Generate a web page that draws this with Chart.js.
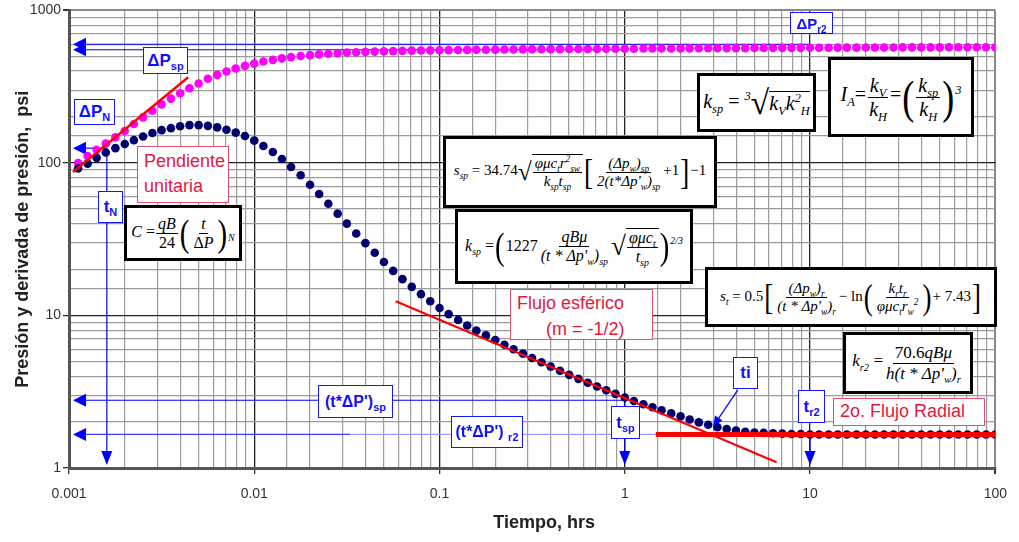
<!DOCTYPE html>
<html>
<head>
<meta charset="utf-8">
<script src="https://cdn.jsdelivr.net/npm/chart.js"></script>
<style>
body { margin: 0; background: #fff; }
#wrap { position: relative; width: 1019px; height: 542px; overflow: hidden; }
.fb { position: absolute; box-sizing: border-box; background: #fff; border: 3px solid #000; font-family: "Liberation Serif", "Times New Roman", serif; font-style: italic; color: #000; display: flex; align-items: center; justify-content: center; white-space: nowrap; }
.fr { display: inline-flex; flex-direction: column; align-items: center; vertical-align: middle; margin: 0 1px; }
.fr > span { line-height: 1.12; padding: 0 2px; }
.fr > span:first-child { border-bottom: 1px solid #000; }
.n { font-style: normal; }
.bk { font-style: normal; display: inline-block; transform: scaleY(1.3); font-size: 1.8em; line-height: 1; margin: 0 1px; font-weight: 300; vertical-align: middle; }
.rad { font-style: normal; font-size: 1.7em; line-height: 1; display: inline-block; vertical-align: middle; }
.sq { border-top: 1px solid #000; display: inline-block; vertical-align: middle; }
sub, sup { font-size: .62em; line-height: 0; }
.lb { position: absolute; box-sizing: border-box; background: #fff; font-family: "Liberation Sans", Arial, sans-serif; white-space: nowrap; }
.bl { border: 1.5px solid #1515ff; color: #1010ff; font-weight: bold; display: flex; align-items: center; justify-content: center; }
.rd { border: 1.5px solid #e0506e; color: #e4173f; font-size: 18px; line-height: 25px; padding-left: 6px; }
</style>
</head>
<body>
<div id="wrap">
  <canvas id="chart" width="1019" height="542"></canvas>

  <!-- formula boxes -->
  <div class="fb" style="left:124px;top:205px;width:118px;height:56px;font-size:16px"><span>C <span class="n">=</span><span class="fr"><span>qB</span><span class="n">24</span></span><span class="bk">(</span><span class="fr"><span>t</span><span><span class="n">Δ</span>P</span></span><span class="bk">)</span><sub>N</sub></span></div>

  <div class="fb" style="left:443px;top:136px;width:274px;height:72px;font-size:15px"><span>s<sub>sp</sub> <span class="n">= 34.74</span><span class="rad">√</span><span class="sq"><span class="fr"><span>φμc<sub>t</sub>r<sup>2</sup><sub>sw</sub></span><span>k<sub>sp</sub>t<sub>sp</sub></span></span></span><span class="bk">[</span><span class="fr"><span>(Δp<sub>w</sub>)<sub>sp</sub></span><span>2(t*Δp'<sub>w</sub>)<sub>sp</sub></span></span><span class="n">+1</span><span class="bk">]</span><span class="n">−1</span></span></div>

  <div class="fb" style="left:455px;top:209px;width:238px;height:75px;font-size:16px"><span>k<sub>sp</sub> <span class="n">=</span><span class="bk">(</span><span class="n">1227</span><span class="fr"><span>qBμ</span><span>(t * Δp'<sub>w</sub>)<sub>sp</sub></span></span><span class="rad">√</span><span class="sq"><span class="fr"><span>φμc<sub>t</sub></span><span>t<sub>sp</sub></span></span></span><span class="bk">)</span><sup>2/3</sup></span></div>

  <div class="fb" style="left:697px;top:73px;width:119px;height:59px;font-size:20px"><span>k<sub>sp</sub> <span class="n">=</span> <sup>3</sup><span class="rad">√</span><span class="sq">k<sub>V</sub>k<sup>2</sup><sub>H</sub></span></span></div>

  <div class="fb" style="left:828px;top:57px;width:146px;height:80px;font-size:20px"><span>I<sub>A</sub><span class="n">=</span><span class="fr"><span>k<sub>V</sub></span><span>k<sub>H</sub></span></span><span class="n">=</span><span class="bk">(</span><span class="fr"><span>k<sub>sp</sub></span><span>k<sub>H</sub></span></span><span class="bk">)</span><sup>3</sup></span></div>

  <div class="fb" style="left:705px;top:267px;width:292px;height:60px;font-size:15px"><span>s<sub>t</sub> <span class="n">= 0.5</span><span class="bk">[</span><span class="fr"><span>(Δp<sub>w</sub>)<sub>r</sub></span><span>(t * Δp'<sub>w</sub>)<sub>r</sub></span></span><span class="n">− ln</span><span class="bk">(</span><span class="fr"><span>k<sub>r</sub>t<sub>r</sub></span><span>φμc<sub>t</sub>r<sub>w</sub><sup>2</sup></span></span><span class="bk">)</span><span class="n">+ 7.43</span><span class="bk">]</span></span></div>

  <div class="fb" style="left:843px;top:332px;width:130px;height:62px;font-size:17px"><span>k<sub>r2</sub> <span class="n">=</span><span class="fr"><span><span class="n">70.6</span>qBμ</span><span>h(t * Δp'<sub>w</sub>)<sub>r</sub></span></span></span></div>

  <!-- blue labels -->
  <div class="lb bl" style="left:143px;top:47px;width:45px;height:27px;font-size:17px"><span>ΔP<sub style="font-size:11px">sp</sub></span></div>
  <div class="lb bl" style="left:790px;top:12px;width:43px;height:22px;font-size:15px"><span>ΔP<sub style="font-size:10px">r2</sub></span></div>
  <div class="lb bl" style="left:74px;top:99px;width:41px;height:26px;font-size:17px"><span>ΔP<sub style="font-size:11px">N</sub></span></div>
  <div class="lb bl" style="left:98px;top:191px;width:25px;height:32px;font-size:17px"><span>t<sub style="font-size:11px">N</sub></span></div>
  <div class="lb bl" style="left:318px;top:385px;width:75px;height:33px;font-size:16px"><span>(t*ΔP')<sub style="font-size:11px">sp</sub></span></div>
  <div class="lb bl" style="left:451px;top:416px;width:72px;height:32px;font-size:16px"><span>(t*ΔP') <sub style="font-size:11px">r2</sub></span></div>
  <div class="lb bl" style="left:611px;top:406px;width:29px;height:33px;font-size:17px"><span>t<sub style="font-size:11px">sp</sub></span></div>
  <div class="lb bl" style="left:798px;top:390px;width:27px;height:33px;font-size:17px"><span>t<sub style="font-size:11px">r2</sub></span></div>
  <div class="lb bl" style="left:733px;top:357px;width:25px;height:32px;font-size:17px"><span>ti</span></div>

  <!-- red labels -->
  <div class="lb rd" style="left:137px;top:146px;width:92px;height:57px;padding-top:2px">Pendiente<br>unitaria</div>
  <div class="lb rd" style="left:510px;top:289px;width:143px;height:51px;line-height:26px">Flujo esférico<br><span style="padding-left:29px">(m = -1/2)</span></div>
  <div class="lb rd" style="left:833px;top:398px;width:152px;height:28px;line-height:25px">2o. Flujo Radial</div>
</div>

<script>
// Time, hrs (sampled 20 points per log cycle)
const times = [
  0.00112, 0.00126, 0.00141, 0.00158, 0.00178, 0.002, 0.00224, 0.00251, 0.00282, 0.00316,
  0.00355, 0.00398, 0.00447, 0.00501, 0.00562, 0.00631, 0.00708, 0.00794, 0.00891, 0.01,
  0.0112, 0.0126, 0.0141, 0.0158, 0.0178, 0.02, 0.0224, 0.0251, 0.0282, 0.0316,
  0.0355, 0.0398, 0.0447, 0.0501, 0.0562, 0.0631, 0.0708, 0.0794, 0.0891, 0.1,
  0.112, 0.126, 0.141, 0.158, 0.178, 0.2, 0.224, 0.251, 0.282, 0.316,
  0.355, 0.398, 0.447, 0.501, 0.562, 0.631, 0.708, 0.794, 0.891, 1,
  1.12, 1.26, 1.41, 1.58, 1.78, 2, 2.24, 2.51, 2.82, 3.16,
  3.55, 3.98, 4.47, 5.01, 5.62, 6.31, 7.08, 7.94, 8.91, 10,
  11.2, 12.6, 14.1, 15.8, 17.8, 20, 22.4, 25.1, 28.2, 31.6,
  35.5, 39.8, 44.7, 50.1, 56.2, 63.1, 70.8, 79.4, 89.1, 100
];

// Pressure change, psi
const pressure = [
  100, 111, 122, 134, 147, 162, 180, 199, 220, 242,
  264, 286, 309, 332, 356, 378, 398, 416, 433, 448,
  462, 474, 485, 494, 502, 509, 515, 520, 525, 529,
  532, 535, 537, 539, 541, 543, 545, 546, 547, 548,
  549, 550, 551, 552, 552, 553, 554, 554, 555, 556,
  556, 557, 557, 558, 558, 559, 559, 560, 560, 561,
  561, 562, 562, 563, 563, 564, 564, 565, 565, 565,
  566, 566, 566, 567, 567, 567, 568, 568, 568, 569,
  569, 569, 570, 570, 570, 571, 571, 571, 571, 572,
  572, 572, 572, 572, 573, 573, 573, 573, 573, 573
];

// Pressure derivative t*dP', psi
const derivative = [
  92, 99, 108, 117, 125, 133, 141, 149, 157, 164,
  169, 174, 177, 177, 175, 171, 165, 158, 150, 140,
  129, 118, 106, 94, 83, 72, 62.5, 54, 46.5, 40,
  34.5, 29.8, 25.8, 22.4, 19.6, 17.3, 15.4, 13.8, 12.4, 11.2,
  10.2, 9.35, 8.6, 7.95, 7.4, 6.9, 6.43, 6.0, 5.62, 5.26,
  4.93, 4.62, 4.34, 4.08, 3.84, 3.62, 3.42, 3.23, 3.06, 2.9,
  2.75, 2.62, 2.5, 2.39, 2.28, 2.18, 2.08, 1.99, 1.92, 1.85,
  1.8, 1.76, 1.73, 1.71, 1.7, 1.69, 1.68, 1.67, 1.67, 1.66,
  1.66, 1.66, 1.66, 1.66, 1.66, 1.66, 1.66, 1.66, 1.66, 1.66,
  1.66, 1.66, 1.66, 1.66, 1.66, 1.66, 1.66, 1.66, 1.66, 1.66
];

// Straight-line fits (time, psi)
const unitSlopeT = [0.00105, 0.0044];
const unitSlopeP = [87, 365];
const sphericalT = [0.058, 6.6];
const sphericalP = [12.4, 1.09];
const radialT = [1.47, 100];
const radialP = [1.66, 1.66];

// Reading lines: horizontal levels (psi) and where they end (time)
const leaderLevels = [600, 552, 125, 2.78, 1.66];
const leaderEnds = [10, 1, 0.0016, 1, 1.47];
// Vertical drops to the time axis
const dropTimes = [0.0016, 1, 10];
const dropFrom = [125, 2.78, 1.66];
// ti pointer: tail and tip
const tiArrowT = [4.07, 3.0];
const tiArrowP = [3.24, 1.88];

const xTicks = [0.001, 0.01, 0.1, 1, 10, 100];
const yTicks = [1, 10, 100, 1000];

const pairs = (xs, ys) => xs.map((x, i) => ({ x: x, y: ys[i] }));
const isDecade = v => Math.abs(Math.log10(v) - Math.round(Math.log10(v))) < 1e-6;
const font = '"Liberation Sans", Arial, sans-serif';

function gridColor(ctx) {
  const v = ctx.tick.value;
  if (Math.abs(v / ctx.scale.max - 1) < 1e-6) return "#8a8a8a";
  return isDecade(v) ? "#222" : "#9c9c9c";
}
function gridWidth(ctx) {
  const v = ctx.tick.value;
  if (Math.abs(v / ctx.scale.max - 1) < 1e-6) return 2;
  return isDecade(v) ? 1.3 : 1.2;
}
function tickColor(ctx) {
  return isDecade(ctx.tick.value) ? "#333" : "rgba(0,0,0,0)";
}
function labelFrom(list) {
  return v => {
    const m = list.find(t => Math.abs(v / t - 1) < 1e-6);
    return m === undefined ? "" : String(m);
  };
}

function arrowLeft(ctx, x, y) {
  ctx.beginPath();
  ctx.moveTo(x, y);
  ctx.lineTo(x + 13, y - 6.5);
  ctx.lineTo(x + 13, y + 6.5);
  ctx.closePath();
  ctx.fill();
}
function arrowDown(ctx, x, y) {
  ctx.beginPath();
  ctx.moveTo(x, y);
  ctx.lineTo(x - 5.5, y - 14);
  ctx.lineTo(x + 5.5, y - 14);
  ctx.closePath();
  ctx.fill();
}

// Blue reading lines with arrow heads, plus the x axis title
const readingLines = {
  id: "readingLines",
  beforeDatasetsDraw(chart) {
    const { ctx, chartArea: a, scales: { x, y } } = chart;
    ctx.save();
    ctx.lineWidth = 1.2;
    ctx.fillStyle = "#0000ff";
    leaderLevels.forEach((p, i) => {
      const py = y.getPixelForValue(p);
      const end = x.getPixelForValue(leaderEnds[i]);
      if (i === 4) {
        const mid = x.getPixelForValue(0.033);
        ctx.strokeStyle = "#3a3aff";
        ctx.beginPath(); ctx.moveTo(a.left + 10, py); ctx.lineTo(mid, py); ctx.stroke();
        ctx.strokeStyle = "#9a9aff";
        ctx.beginPath(); ctx.moveTo(mid, py); ctx.lineTo(end, py); ctx.stroke();
      } else {
        ctx.strokeStyle = "#0000ff";
        ctx.beginPath(); ctx.moveTo(a.left + 10, py); ctx.lineTo(end, py); ctx.stroke();
      }
      arrowLeft(ctx, a.left + 4, py);
    });
    ctx.strokeStyle = "#0000ff";
    dropTimes.forEach((t, i) => {
      const px = x.getPixelForValue(t);
      ctx.beginPath();
      ctx.moveTo(px, y.getPixelForValue(dropFrom[i]));
      ctx.lineTo(px, a.bottom - 10);
      ctx.stroke();
      arrowDown(ctx, px, a.bottom - 3);
    });
    ctx.restore();
  },
  afterDatasetsDraw(chart) {
    const { ctx, scales: { x, y } } = chart;
    const x0 = x.getPixelForValue(tiArrowT[0]), y0 = y.getPixelForValue(tiArrowP[0]);
    const x1 = x.getPixelForValue(tiArrowT[1]), y1 = y.getPixelForValue(tiArrowP[1]);
    const ang = Math.atan2(y1 - y0, x1 - x0);
    ctx.save();
    ctx.strokeStyle = "#0000ff";
    ctx.fillStyle = "#0000ff";
    ctx.lineWidth = 1.2;
    ctx.beginPath(); ctx.moveTo(x0, y0); ctx.lineTo(x1 - 8 * Math.cos(ang), y1 - 8 * Math.sin(ang)); ctx.stroke();
    ctx.beginPath();
    ctx.moveTo(x1, y1);
    ctx.lineTo(x1 - 10 * Math.cos(ang) + 4.5 * Math.sin(ang), y1 - 10 * Math.sin(ang) - 4.5 * Math.cos(ang));
    ctx.lineTo(x1 - 10 * Math.cos(ang) - 4.5 * Math.sin(ang), y1 - 10 * Math.sin(ang) + 4.5 * Math.cos(ang));
    ctx.closePath();
    ctx.fill();
    // axis title sits a little right of the plot centre in the source
    ctx.fillStyle = "#222";
    ctx.font = "bold 18px " + font;
    ctx.textAlign = "center";
    ctx.textBaseline = "middle";
    ctx.fillText("Tiempo, hrs", (chart.chartArea.left + chart.chartArea.right) / 2 + 12, 523);
    ctx.restore();
  }
};

new Chart(document.getElementById("chart"), {
  type: "scatter",
  data: {
    datasets: [
      { data: pairs(unitSlopeT, unitSlopeP), showLine: true, borderColor: "#ff0000", borderWidth: 2.5, pointRadius: 0, order: 0 },
      { data: pairs(sphericalT, sphericalP), showLine: true, borderColor: "#ff0000", borderWidth: 2, pointRadius: 0, order: 0 },
      { data: pairs(radialT, radialP), showLine: true, borderColor: "#ff0000", borderWidth: 5, pointRadius: 0, order: 0 },
      { data: pairs(times, derivative), pointRadius: 4.3, pointBackgroundColor: "#00006e", pointBorderColor: "#00006e", pointBorderWidth: 0, order: 1 },
      { data: pairs(times, pressure), pointRadius: 4.3, pointBackgroundColor: "#ff00ff", pointBorderColor: "#ff00ff", pointBorderWidth: 0, order: 2 }
    ]
  },
  options: {
    responsive: false,
    animation: false,
    layout: { padding: { top: 9, right: 17, left: 0, bottom: 0 } },
    plugins: { legend: { display: false }, tooltip: { enabled: false } },
    scales: {
      x: {
        type: "logarithmic",
        min: 0.001,
        max: 100,
        afterFit: s => { s.height = 74; },
        border: { color: "#555", width: 3 },
        grid: { color: gridColor, lineWidth: gridWidth, tickColor: tickColor, tickLength: 6 },
        ticks: { autoSkip: false, maxRotation: 0, padding: 12, color: "#333", font: { family: font, size: 14 }, callback: labelFrom(xTicks) },
        title: { display: false }
      },
      y: {
        type: "logarithmic",
        min: 1,
        max: 1000,
        afterFit: s => { s.width = 69; },
        border: { color: "#555", width: 3 },
        grid: { color: gridColor, lineWidth: gridWidth, tickColor: tickColor, tickLength: 6 },
        ticks: { autoSkip: false, padding: 2, color: "#333", font: { family: font, size: 14 }, callback: labelFrom(yTicks) },
        title: { display: true, text: "Presión y derivada de presión,  psi", color: "#222", font: { family: font, size: 18, weight: "bold" }, padding: { top: 12, bottom: 0 } }
      }
    }
  },
  plugins: [readingLines]
});
</script>
</body>
</html>
